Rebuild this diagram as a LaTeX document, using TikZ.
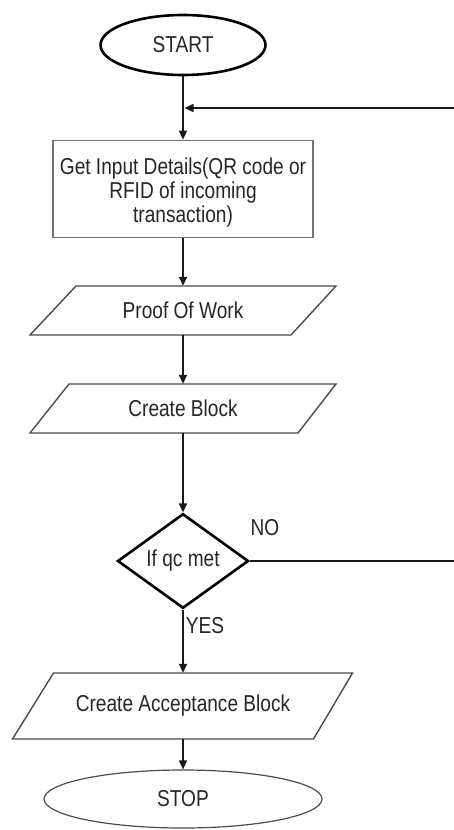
\documentclass[tikz,border=0pt]{standalone}
\usepackage{fontspec}
\setmainfont[FakeStretch=0.83]{Liberation Sans}
\usetikzlibrary{shapes.geometric,arrows.meta}
\begin{document}
\begin{tikzpicture}[x=1pt,y=-1pt,
  txt/.style={font=\fontsize{23}{24}\selectfont, text=black!85, inner sep=0pt},
  conn/.style={line width=1.5pt, draw=black!90},
  arr/.style={conn, -{Triangle[length=9pt,width=8pt]}},
  shp/.style={draw=black!70, line width=1.4pt},
  thick shp/.style={draw=black, line width=2.6pt}]
\useasboundingbox (0,0) rectangle (454,830);

% shapes
\node[txt, thick shp, ellipse, minimum width=165pt, minimum height=60pt] (start) at (183,45) {START};
\node[draw=black!55, line width=1.7pt, minimum width=260pt, minimum height=97pt] (input) at (183,189) {};
\node[txt, align=center] (inputtxt) at (183,193)
  {Get Input Details(QR code or\\RFID of incoming\\transaction)};

\draw[shp] (76,286) -- (336,286) -- (291,335) -- (30,335) -- cycle;
\node[txt, minimum width=260pt, minimum height=49pt] (pow) at (183,310.5) {Proof Of Work};

\draw[shp] (69,384) -- (336,384) -- (298,433) -- (30,433) -- cycle;
\node[txt, minimum width=260pt, minimum height=49pt] (cb) at (183,408.5) {Create Block};

\node[txt, thick shp, diamond, minimum width=131pt, minimum height=94pt] (qc) at (183,561) {If qc met};

\draw[shp] (53.5,673) -- (352.5,673) -- (313.5,739) -- (12.5,739) -- cycle;
\node[txt, minimum width=290pt, minimum height=66pt] (cab) at (183,706) {Create Acceptance Block};

\node[txt, draw=black!70, line width=1.2pt, ellipse, minimum width=278pt, minimum height=58pt] (stop) at (183,799) {STOP};

% labels
\node[txt] (no) at (265,528) {NO};
\node[txt] (yes) at (205,626) {YES};

% connectors
\coordinate (r1) at (454,561);
\coordinate (r2) at (454,108);
\coordinate (j) at (184.5,108);
\draw[arr] (start) -- (input);
\draw[arr] (input) -- (pow);
\draw[arr] (pow) -- (cb);
\draw[arr] (cb) -- (qc);
\draw[arr] (qc) -- (cab);
\draw[arr] (cab) -- (stop);
\draw[conn] (qc.east) -- (r1);
\draw[arr] (r2) -- (j);
\end{tikzpicture}
\end{document}
